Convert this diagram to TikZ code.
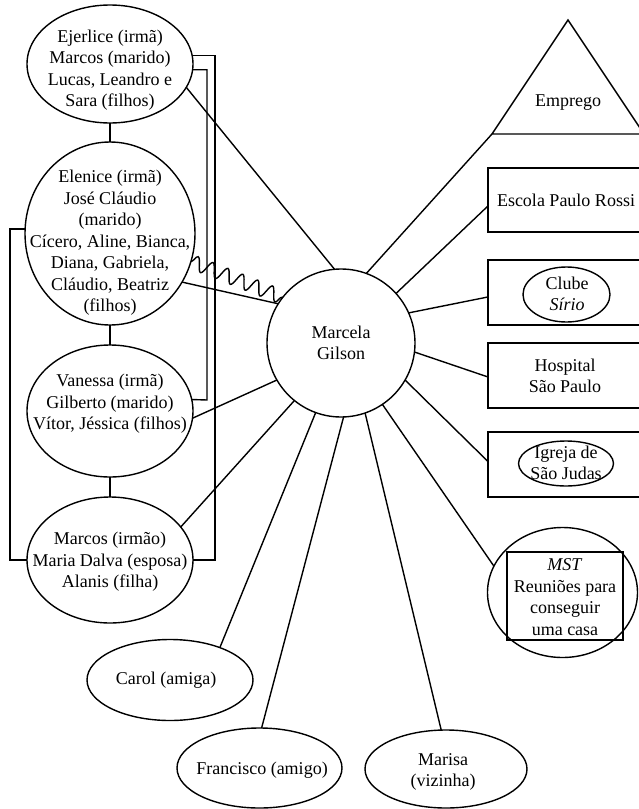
\documentclass[tikz,border=0pt]{standalone}
\usepackage{fontspec}
\setmainfont{Liberation Serif}
\usetikzlibrary{shapes.geometric,decorations.pathmorphing}
\newcommand\lbfont{\fontsize{18}{21.5}\selectfont}
\begin{document}
\begin{tikzpicture}[x=1pt,y=-1pt,
  every node/.style={outer sep=0pt},
  person/.style={draw, ellipse, line width=1.4pt, inner sep=0pt},
  place/.style={draw, rectangle, line width=1.4pt, inner sep=0pt,
                minimum width=170pt, minimum height=64pt},
  inbox/.style={draw, rectangle, line width=1.4pt, inner sep=0pt},
  lbl/.style={align=center, font=\lbfont, inner sep=0pt},
  link/.style={line width=1.4pt},
  wavy/.style={line width=1.4pt, decorate,
               decoration={snake, amplitude=7pt, segment length=16pt}}]
\clip (0,0) rectangle (639,809);
\fill[white] (0,0) rectangle (639,809);

% centre of the network
\node[person, circle, minimum size=148pt] (ego) at (341,343) {};
\node[lbl] (ego-t) at (341,343) {Marcela\\Gilson};

% family column
\node[person, minimum width=166pt, minimum height=118pt] (ejer) at (110,64) {};
\node[lbl] (ejer-t) at (110,70) {Ejerlice (irmã)\\Marcos (marido)\\Lucas, Leandro e\\Sara (filhos)};

\node[person, minimum width=170pt, minimum height=183pt] (elen) at (110,233.5) {};
\node[lbl] (elen-t) at (110,243) {Elenice (irmã)\\José Cláudio\\(marido)\\Cícero, Aline, Bianca,\\Diana, Gabriela,\\Cláudio, Beatriz\\(filhos)};

\node[person, minimum width=166pt, minimum height=132pt] (van) at (110,411) {};
\node[lbl] (van-t) at (110,404) {Vanessa (irmã)\\Gilberto (marido)\\Vítor, Jéssica (filhos)};

\node[person, minimum width=166pt, minimum height=126pt] (irmao) at (110,560) {};
\node[lbl] (irmao-t) at (110,562) {Marcos (irmão)\\Maria Dalva (esposa)\\Alanis (filha)};

\draw[link] (ejer.south) -- (elen.north);
\draw[link] (elen.south) -- (van.north);
\draw[link] (van.south) -- (irmao.north);

% brackets joining the siblings
\coordinate (br-o) at (215,560);
\coordinate (br-i) at (207,400);
\coordinate (br-l) at (10,560);
\draw[link] (ejer.6) -| (br-o) -- (irmao.east);
\draw[link] (ejer.-4) -| (br-i) -- (van.8);
\draw[link] (elen.177) -| (br-l) -- (irmao.west);

% friends and neighbour
\node[person, minimum width=166pt, minimum height=81pt] (carol) at (170,680) {};
\node[lbl] (carol-t) at (166,680) {Carol (amiga)};
\node[person, minimum width=165pt, minimum height=80pt] (fran) at (259.5,768) {};
\node[lbl] (fran-t) at (262,770) {Francisco (amigo)};
\node[person, minimum width=162pt, minimum height=78pt] (marisa) at (446,769) {};
\node[lbl] (marisa-t) at (443,772) {Marisa\\(vizinha)};

% institutions
\coordinate (emp-a) at (568,20);
\coordinate (emp-l) at (492,134);
\coordinate (emp-r) at (644,134);
\draw[link, line join=miter] (emp-l) -- (emp-a) -- (emp-r) -- cycle;
\node[lbl] (emp-t) at (568,103) {Emprego};

\node[place] (escola) at (573,200) {};
\node[lbl] (escola-t) at (566,200) {Escola Paulo Rossi};

\node[place, minimum height=65pt] (clube) at (573,292.5) {};
\node[person, minimum width=87pt, minimum height=55pt] (clube-e) at (566.5,294.5) {};
\node[lbl] (clube-t) at (567,294) {Clube\\\textit{Sírio}};

\node[place, minimum height=65pt] (hosp) at (573,375.5) {};
\node[lbl] (hosp-t) at (565,376) {Hospital\\São Paulo};

\node[place, minimum height=65pt] (igreja) at (573,464.5) {};
\node[person, minimum width=95pt, minimum height=45pt] (igreja-e) at (566,463.5) {};
\node[lbl] (igreja-t) at (566,463) {Igreja de\\São Judas};

\node[person, minimum width=150pt, minimum height=130pt] (mst) at (562.5,592.5) {};
\node[inbox, minimum width=116pt, minimum height=88pt] (mst-b) at (565,596) {};
\node[lbl] (mst-t) at (565,597) {\textit{MST}\\Reuniões para\\conseguir\\uma casa};

% ties from the centre
\draw[link] (ejer.-17) -- (ego.95);
\draw[wavy] (elen.-19) -- (ego.142);
\draw[link] (elen.-34) -- (ego.148);
\draw[link] (van.-5) -- (ego.-150);
\draw[link] (irmao.25) -- (ego.-129);
\draw[link] (carol.33) -- (ego.-110.6);
\draw[link] (fran.87) -- (ego.-88.4);
\draw[link] (marisa.97) -- (ego.-71.1);
\draw[link] (mst.159.9) -- (ego.-56.5);
\draw[link] (igreja.178.3) -- (ego.-30);
\draw[link] (hosp.181) -- (ego.-7);
\draw[link] (clube.183.7) -- (ego.24.2);
\draw[link] (escola.184.7) -- (ego.42.8);
\draw[link] (emp-l) -- (ego.70.6);
\end{tikzpicture}
\end{document}
